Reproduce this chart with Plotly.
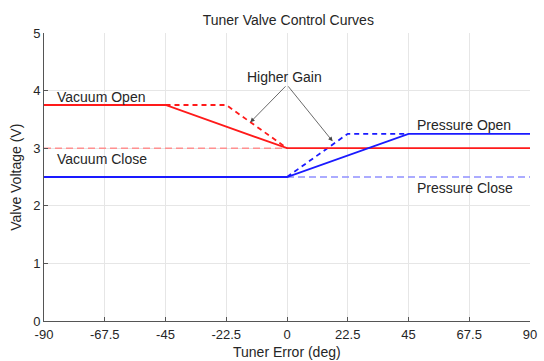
import plotly.graph_objects as go

# Data
vac_open_x = [-90, -45, 0, 90]
vac_open_y = [3.75, 3.75, 3.0, 3.0]
vac_open_hg_x = [-45, -22.5, 0]
vac_open_hg_y = [3.75, 3.75, 3.0]
vac_close_x = [-90, 0]
vac_close_y = [3.0, 3.0]
pres_open_x = [-90, 0, 45, 90]
pres_open_y = [2.5, 2.5, 3.25, 3.25]
pres_open_hg_x = [0, 22.5, 45]
pres_open_hg_y = [2.5, 3.25, 3.25]
pres_close_x = [0, 90]
pres_close_y = [2.5, 2.5]

x_ticks = [-90, -67.5, -45, -22.5, 0, 22.5, 45, 67.5, 90]
x_tick_text = ["-90", "-67.5", "-45", "-22.5", "0", "22.5", "45", "67.5", "90"]
y_ticks = [0, 1, 2, 3, 4, 5]

labels = ["Vacuum Open", "Vacuum Close", "Pressure Open", "Pressure Close"]
label_x = [-86, -86, 47.3, 47.3]
label_y = [3.89, 2.81, 3.41, 2.31]

gain_text = "Higher Gain"
gain_text_pos = (-1, 4.24)
gain_origin = (0, 4.1)
gain_tips = [(-13.6, 3.45), (16.9, 3.12)]

RED = "#ff1a1a"
BLUE = "#1a1aff"
LRED = "#ff9090"
LBLUE = "#9090ff"
TXT = "#262626"

fig = go.Figure()
fig.add_trace(go.Scatter(x=vac_close_x, y=vac_close_y, mode="lines",
                         line=dict(color=LRED, width=1.5, dash="7px,4px")))
fig.add_trace(go.Scatter(x=pres_close_x, y=pres_close_y, mode="lines",
                         line=dict(color=LBLUE, width=1.5, dash="7px,4px")))
fig.add_trace(go.Scatter(x=vac_open_hg_x, y=vac_open_hg_y, mode="lines",
                         line=dict(color=RED, width=1.8, dash="5px,4px")))
fig.add_trace(go.Scatter(x=pres_open_hg_x, y=pres_open_hg_y, mode="lines",
                         line=dict(color=BLUE, width=1.8, dash="5px,4px")))
fig.add_trace(go.Scatter(x=vac_open_x, y=vac_open_y, mode="lines",
                         line=dict(color=RED, width=1.8)))
fig.add_trace(go.Scatter(x=pres_open_x, y=pres_open_y, mode="lines",
                         line=dict(color=BLUE, width=1.8)))

font_family = "Liberation Sans, Arial, sans-serif"

for t, lx, ly in zip(labels, label_x, label_y):
    fig.add_annotation(x=lx, y=ly, text=t, showarrow=False, xanchor="left",
                       yanchor="middle", font=dict(size=14, color=TXT))

fig.add_annotation(x=gain_text_pos[0], y=gain_text_pos[1], text=gain_text,
                   showarrow=False, xanchor="center", yanchor="middle",
                   font=dict(size=14, color=TXT))
for tx, ty in gain_tips:
    fig.add_annotation(x=tx, y=ty, ax=gain_origin[0], ay=gain_origin[1],
                       axref="x", ayref="y", xref="x", yref="y", text="",
                       showarrow=True, arrowhead=2, arrowsize=1.1, arrowwidth=0.8,
                       arrowcolor="#444444")

# Axis titles as annotations for exact placement
fig.add_annotation(x=0.5, y=-0.108, xref="paper", yref="paper",
                   text="Tuner Error (deg)", showarrow=False,
                   xanchor="center", yanchor="middle", font=dict(size=14, color=TXT))
fig.add_annotation(x=-0.058, y=0.5, xref="paper", yref="paper",
                   text="Valve Voltage (V)", showarrow=False, textangle=-90,
                   xanchor="center", yanchor="middle", font=dict(size=14, color=TXT))

fig.update_layout(
    width=544, height=361,
    margin=dict(l=44, r=7, t=33, b=40),
    paper_bgcolor="white", plot_bgcolor="white",
    showlegend=False,
    font=dict(family=font_family, size=13, color=TXT),
    title=dict(text="Tuner Valve Control Curves", x=0.53, xanchor="center",
               y=0.945, yanchor="middle", font=dict(size=14, color=TXT)),
)
fig.update_xaxes(range=[-90, 90], tickvals=x_ticks, ticktext=x_tick_text,
                 showgrid=True, gridcolor="#e6e6e6", gridwidth=1,
                 showline=True, linecolor="#555555", linewidth=1,
                 ticks="inside", ticklen=4, tickcolor="#555555",
                 zeroline=False, tickfont=dict(size=13),
                 ticklabeloverflow="allow", ticklabelstandoff=1)
fig.update_yaxes(range=[0, 5], tickvals=y_ticks,
                 showgrid=True, gridcolor="#e6e6e6", gridwidth=1,
                 showline=True, linecolor="#555555", linewidth=1,
                 ticks="inside", ticklen=4, tickcolor="#555555",
                 zeroline=False, tickfont=dict(size=13))

fig.write_html("out.html", config={"displayModeBar": False},
               post_script="document.body.style.margin='0';document.body.style.overflow='hidden';")
